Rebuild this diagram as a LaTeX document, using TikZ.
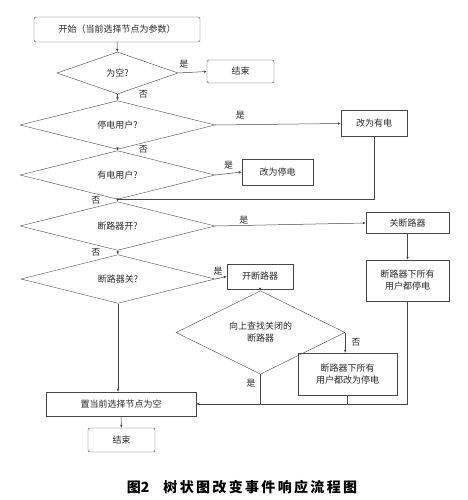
\documentclass[tikz,border=0pt]{standalone}
\usepackage{fontspec}
\newfontfamily\cjk{Noto Sans CJK SC}
\usepackage{tikz}
\usetikzlibrary{arrows.meta,shapes.geometric}
\definecolor{linegray}{RGB}{70,70,70}
\definecolor{textgray}{RGB}{40,40,40}

\tikzset{
    flowbox/.style={draw=linegray, rectangle, inner sep=0pt, align=center,
        font=\cjk\fontsize{9}{12}\selectfont, text=textgray},
    termbox/.style={flowbox, rounded corners=2pt},
    test/.style={draw=linegray, diamond, inner sep=0pt, align=center,
        font=\cjk\fontsize{9}{12}\selectfont, text=textgray},
    flow/.style={draw=linegray, line width=0.5pt, -{Latex[length=3pt,width=2.6pt]}},
    link/.style={draw=linegray, line width=0.5pt},
    tag/.style={font=\cjk\fontsize{9}{10}\selectfont, text=textgray, inner sep=1pt}
}

\begin{document}
\begin{tikzpicture}[x=1pt, y=-1pt]
    \useasboundingbox (0,0) rectangle (467,500);

    % Main column
    \node[termbox, minimum width=166pt, minimum height=25pt] (Start) at (117,29.5) {开始（当前选择节点为参数）};
    \node[test, minimum width=121pt, minimum height=42pt] (IsEmpty) at (117.5,73) {为空?};
    \node[termbox, minimum width=67pt, minimum height=23pt] (EndA) at (240.5,71.5) {结束};
    \node[test, minimum width=195pt, minimum height=40pt] (IsOff) at (117.5,125) {停电用户?};
    \node[test, minimum width=195pt, minimum height=40pt] (IsOn) at (117.5,175) {有电用户?};
    \node[test, minimum width=195pt, minimum height=40pt] (BrkOpen) at (117.5,226) {断路器开?};
    \node[test, minimum width=194pt, minimum height=40pt] (BrkClosed) at (118,279) {断路器关?};
    \node[flowbox, minimum width=150pt, minimum height=24pt] (Clear) at (121,404) {置当前选择节点为空};
    \node[termbox, minimum width=67pt, minimum height=24pt] (EndB) at (121.5,440) {结束};

    % Right side
    \node[flowbox, minimum width=66pt, minimum height=26pt] (SetOn) at (374,123.5) {改为有电};
    \node[flowbox, minimum width=71pt, minimum height=26pt] (SetOff) at (277.5,172) {改为停电};
    \node[flowbox, minimum width=83pt, minimum height=21pt] (CloseBrk) at (407.5,223) {关断路器};
    \node[flowbox, minimum width=83pt, minimum height=41pt] (AllOff) at (407.5,280.5) {断路器下所有\\用户都停电};
    \node[flowbox, minimum width=66pt, minimum height=25pt] (OpenBrk) at (260,276.5) {开断路器};
    \node[test, minimum width=169pt, minimum height=65pt] (FindUp) at (260.5,332.5) {向上查找关闭的\\断路器};
    \node[flowbox, minimum width=99pt, minimum height=42pt] (AllSetOff) at (347.5,374) {断路器下所有\\用户都改为停电};

    \coordinate (Merge) at (0,403.5);

    % Connectors
    \draw[flow] (Start) -- (IsEmpty);
    \draw[flow] (IsEmpty.east) -- node[tag, pos=0.2, above=3pt] {是} (EndA.west);
    \draw[flow] (IsEmpty.south) -- node[tag, pos=0.1, right=20pt] {否} (IsOff.north);
    \draw[flow] (IsOff.east) -- node[tag, pos=0.2, above=4pt] {是} (SetOn.west);
    \draw[flow] (IsOff.south) -- node[tag, pos=0.2, right=20pt] {否} (IsOn.north);
    \draw[flow] (IsOn.east) -- node[tag, pos=0.5, above=3pt] {是} (SetOff.west);
    \draw[link] (SetOn.south) |- (IsOn.south);
    \draw[flow] (IsOn.south) -- node[tag, pos=0.25, left=16pt] {否} (BrkOpen.north);
    \draw[flow] (BrkOpen.east) -- node[tag, pos=0.19, above=0pt] {是} (CloseBrk.west);
    \draw[flow] (BrkOpen.south) -- node[tag, pos=0.35, left=16pt] {否} (BrkClosed.north);
    \draw[flow] (BrkClosed.east) -- node[tag, pos=0.25, above=2pt] {是} (OpenBrk.west);
    \draw[flow] (CloseBrk) -- (AllOff);
    \draw[flow] (OpenBrk) -- (FindUp);
    \draw[flow] (FindUp.east) -- node[tag, pos=0.5, right=5pt] {否} (FindUp.east |- AllSetOff.north);
    \draw[link] (FindUp.south) -- node[tag, pos=0.3, left=4pt] {是} (FindUp.south |- Merge);
    \draw[link] (AllSetOff.south) -- (AllSetOff.south |- Merge);
    \draw[flow] (AllOff.south) |- (Clear.east);
    \draw[flow] (BrkClosed.south) -- (BrkClosed.south |- Clear.north);
    \draw[flow] (Clear) -- (EndB);

    % Caption
    \node[font=\cjk\bfseries\fontsize{14}{14}\selectfont, inner sep=0pt] (Caption) at (242,487)
        {图2\hspace{1em}树\,状\,图\,改\,变\,事\,件\,响\,应\,流\,程\,图};
\end{tikzpicture}
\end{document}
